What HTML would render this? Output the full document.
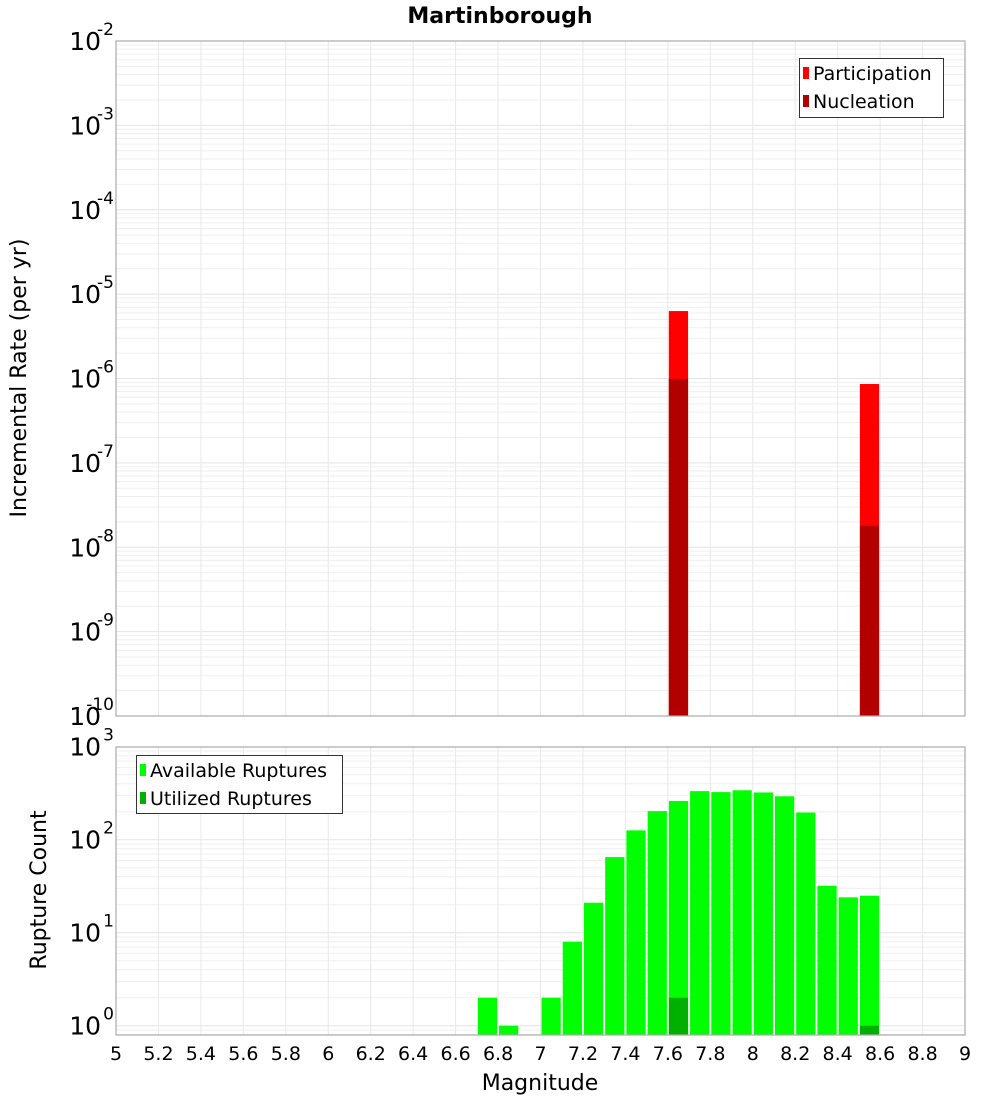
<!DOCTYPE html>
<html><head><meta charset="utf-8"><style>
body{margin:0;background:#fff}
svg{display:block;font-family:"DejaVu Sans","Liberation Sans",sans-serif}
</style></head><body>
<svg id="chart" width="1000" height="1100" xmlns="http://www.w3.org/2000/svg">
<text x="500" y="23" text-anchor="middle" font-size="22" font-weight="bold">Martinborough</text>
<g id="top"></g>
<g id="bot"></g>
<text transform="translate(26,378) rotate(-90)" text-anchor="middle" font-size="22">Incremental Rate (per yr)</text>
<text transform="translate(46,890) rotate(-90)" text-anchor="middle" font-size="22">Rupture Count</text>
<text x="540" y="1090" text-anchor="middle" font-size="22">Magnitude</text>
</svg>
<script>
const xTicks = [5,5.2,5.4,5.6,5.8,6,6.2,6.4,6.6,6.8,7,7.2,7.4,7.6,7.8,8,8.2,8.4,8.6,8.8,9];
const rateMags = [7.65, 8.55];
const participation = [6.3e-6, 8.6e-7];
const nucleation = [9.9e-7, 1.8e-8];
const countMags = [6.75,6.85,7.05,7.15,7.25,7.35,7.45,7.55,7.65,7.75,7.85,7.95,8.05,8.15,8.25,8.35,8.45,8.55];
const available = [2,1,2,8,21,65,126,203,261,333,325,340,322,293,196,32,24,25];
const utilizedMags = [7.65, 8.55];
const utilized = [2, 1];
const rateExps = [-2,-3,-4,-5,-6,-7,-8,-9,-10];
const countExps = [3,2,1,0];

const NS="http://www.w3.org/2000/svg";
const X0=116, X1=965;
const xs = m => X0 + (m-5)/(9-5)*(X1-X0);
function el(parent,tag,attrs){const e=document.createElementNS(NS,tag);for(const k in attrs)e.setAttribute(k,attrs[k]);parent.appendChild(e);return e;}

function panel(g, top, bottom, yFn, minE, maxE, exps, nameP){
  el(g,'rect',{x:X0,y:top,width:X1-X0,height:bottom-top,fill:'#fff'});
  // minor grid
  for(let e=minE-1;e<=maxE;e++){
    for(let k=1;k<10;k++){
      const v=Math.pow(10,e)*k; const y=yFn(v);
      if(y<top||y>bottom) continue;
      const gl=el(g,'line',{x1:X0,x2:X1,y1:y,y2:y,stroke:k===1?'#e4e4e4':'#efefef','stroke-width':1});
      
      
    }
  }
  xTicks.forEach(t=>{
    const x=xs(t);
    const gl=el(g,'line',{x1:x,x2:x,y1:top,y2:bottom,stroke:'#e8e8e8','stroke-width':1});
    
    
  });
  exps.forEach(e=>{
    const y=yFn(Math.pow(10,e));
    const t=el(g,'text',{x:101,y:y+9,'text-anchor':'end','font-size':25});
    t.textContent='10';
    
    
    const s=el(g,'text',{x:114,y:y-6,'text-anchor':'end','font-size':17});
    s.textContent=String(e);
    
    
  });
}

// top panel
const T0=41,T1=716;
const yTop = v => T0 + (-2 - Math.log10(v))*(T1-T0)/8;
const gt=document.getElementById('top');
panel(gt,T0,T1,yTop,-10,-2,rateExps,'rate');
const bw=(X1-X0)/40;
rateMags.forEach((m,i)=>{
  const x=xs(m)-bw/2+1, w=bw-2;
  const p=el(gt,'rect',{x:x,y:yTop(participation[i]),width:w,height:T1-yTop(participation[i]),fill:'#ff0000'});
  
  
  const n=el(gt,'rect',{x:x,y:yTop(nucleation[i]),width:w,height:T1-yTop(nucleation[i]),fill:'#b20000'});
  
  
});
el(gt,'rect',{x:X0,y:T0,width:X1-X0,height:T1-T0,fill:'none',stroke:'#aaa','stroke-width':1.2});

// bottom panel
const B0=747,B1=1035, BZ=1025.7, BD=93;
const yBot = v => BZ - Math.log10(v)*BD;
const gb=document.getElementById('bot');
panel(gb,B0,B1,yBot,-1,3,countExps,'count');
countMags.forEach((m,i)=>{
  const r=el(gb,'rect',{x:xs(m)-bw/2+1,y:yBot(available[i]),width:bw-2,height:B1-yBot(available[i]),fill:'#00ff00'});
  
  
});
utilizedMags.forEach((m,i)=>{
  const r=el(gb,'rect',{x:xs(m)-bw/2+1,y:yBot(utilized[i]),width:bw-2,height:B1-yBot(utilized[i]),fill:'#00b000'});
  
  
});
el(gb,'rect',{x:X0,y:B0,width:X1-X0,height:B1-B0,fill:'none',stroke:'#aaa','stroke-width':1.2});
xTicks.forEach(t=>{
  const tx=el(gb,'text',{x:xs(t),y:1060,'text-anchor':'middle','font-size':19});
  tx.textContent=String(t);
  
  
});
</script>
<svg style="position:absolute;left:0;top:0" width="1000" height="1100" xmlns="http://www.w3.org/2000/svg" font-family="DejaVu Sans, Liberation Sans, sans-serif">
<g>
<rect x="799.5" y="58.5" width="144" height="59" fill="#fff" stroke="#333" stroke-width="1"/>
<rect x="803" y="67" width="6" height="12" fill="#ff0000"/>
<text x="813" y="80" font-size="19">Participation</text>
<rect x="803" y="95" width="6" height="12" fill="#b20000"/>
<text x="813" y="108" font-size="19">Nucleation</text>
</g>
<g>
<rect x="136.5" y="755.5" width="206" height="58" fill="#fff" stroke="#333" stroke-width="1"/>
<rect x="140" y="764" width="6" height="12" fill="#00ff00"/>
<text x="150" y="777" font-size="19">Available Ruptures</text>
<rect x="140" y="792" width="6" height="12" fill="#00b000"/>
<text x="150" y="805" font-size="19">Utilized Ruptures</text>
</g>
</svg>
</body></html>
